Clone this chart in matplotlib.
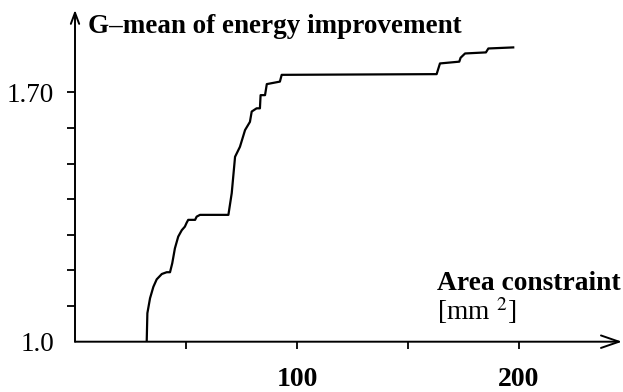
import matplotlib
matplotlib.use('Agg')
import matplotlib.pyplot as plt

# data (area constraint in mm^2, G-mean of energy improvement)
area = [32.3, 32.6, 33.8, 35.3, 36.8, 39.1, 41.3, 42.8, 43.8, 45.0, 46.5, 48.1,
        49.5, 50.3, 51.0, 54.1, 54.8, 56.3, 69.1, 70.6, 72.1, 74.3, 76.6, 78.8,
        79.6, 81.8, 83.3, 83.6, 85.6, 86.4, 92.3, 93.1, 162.9, 164.4, 173.1,
        173.7, 175.7, 185.1, 186.2, 197.4]
gmean = [1.000, 1.080, 1.122, 1.154, 1.175, 1.190, 1.195, 1.195, 1.220, 1.262,
         1.295, 1.313, 1.323, 1.334, 1.342, 1.342, 1.351, 1.356, 1.356, 1.417,
         1.519, 1.547, 1.594, 1.617, 1.646, 1.655, 1.655, 1.692, 1.692, 1.723,
         1.730, 1.749, 1.751, 1.781, 1.786, 1.797, 1.809, 1.812, 1.823, 1.826]

x_ticks = [50, 100, 150, 200]
x_ticklabels = ['', '100', '', '200']
y_ticks = [1.0, 1.1, 1.2, 1.3, 1.4, 1.5, 1.6, 1.7]
y_ticklabels = ['1.0', '', '', '', '', '', '', '1.70']

plt.rcParams['font.family'] = ['Liberation Serif', 'DejaVu Serif']
plt.rcParams['mathtext.fontset'] = 'stix'

W, H = 623, 392
fig = plt.figure(figsize=(W / 100, H / 100), dpi=100)
ax = fig.add_axes([75 / W, 1 - 341.7 / H, (622 - 75) / W, (341.7 - 10) / H])

ax.plot(area, gmean, color='black', lw=1.6)
ax.set_xlim(0, 246.4)
ax.set_ylim(1.0, 1.931)

for s in ax.spines.values():
    s.set_visible(False)

# axes drawn as arrows
ax.annotate('', xy=(1, 0), xytext=(0, 0), xycoords='axes fraction',
            arrowprops=dict(arrowstyle='->,head_length=1.3,head_width=0.45',
                            lw=1.4, color='black', shrinkA=0, shrinkB=0))
ax.annotate('', xy=(0, 1), xytext=(0, 0), xycoords='axes fraction',
            arrowprops=dict(arrowstyle='->,head_length=0.8,head_width=0.3',
                            lw=1.4, color='black', shrinkA=0, shrinkB=0))

ax.set_xticks(x_ticks)
ax.set_xticklabels(x_ticklabels, fontsize=20, fontweight='bold')
ax.set_yticks(y_ticks)
ax.set_yticklabels(y_ticklabels, fontsize=19.5)
ax.tick_params(axis='x', direction='out', length=5, width=1.3, pad=13)
ax.tick_params(axis='y', direction='out', length=6, width=1.3, pad=9)
ax.yaxis.get_major_ticks()[0].tick1line.set_visible(False)

fig.text(88 / W, 1 - 33 / H, 'G\u2013mean of energy improvement',
         fontsize=19.5, fontweight='bold', va='baseline', ha='left')
fig.text(437 / W, 1 - 290 / H, 'Area constraint',
         fontsize=19.8, fontweight='bold', va='baseline', ha='left')
fig.text(437 / W, 1 - 320 / H, '[mm $^{2}$]',
         fontsize=19.8, va='baseline', ha='left')

fig.savefig('out.png', dpi=100)
